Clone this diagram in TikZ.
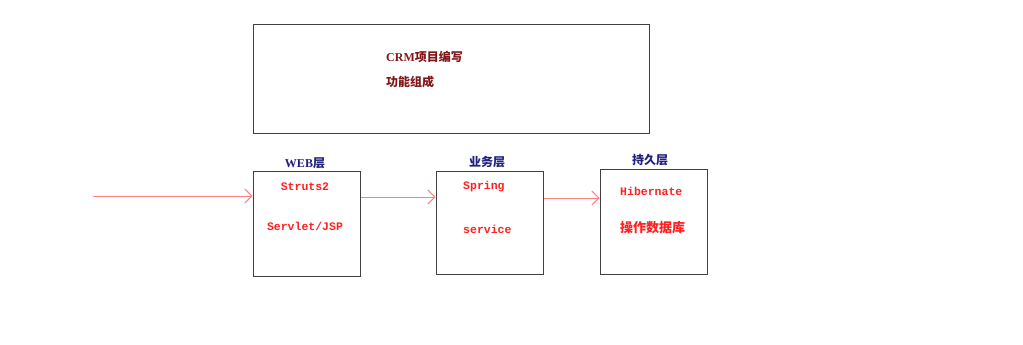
\documentclass[tikz,border=0pt]{standalone}
\usepackage{fontspec}
\setmainfont{Liberation Mono}
\newfontfamily\serifb{Liberation Serif}
\newfontfamily\cjk{Noto Sans CJK SC}
\usetikzlibrary{arrows.meta}
\definecolor{titlered}{RGB}{128,24,24}
\definecolor{layerblue}{RGB}{32,32,128}
\definecolor{itemred}{RGB}{255,32,32}
\definecolor{flowred}{RGB}{255,128,128}
\definecolor{boxedge}{RGB}{64,64,64}

\begin{document}
\begin{tikzpicture}[x=1pt, y=-1pt,
  layerbox/.style={draw=boxedge, line width=1pt, minimum width=107pt,
                   minimum height=105pt, inner sep=0pt},
  titlebox/.style={draw=boxedge, line width=1pt, minimum width=396pt,
                   minimum height=108pt, inner sep=0pt},
  titletext/.style={anchor=west, inner sep=0pt, text=titlered,
                    font=\fontsize{12}{14}\selectfont\bfseries},
  layername/.style={inner sep=0pt, text=layerblue,
                    font=\fontsize{12}{14}\selectfont\bfseries},
  item/.style={inner sep=0pt, text=itemred,
               font=\fontsize{11.5}{13}\selectfont\bfseries},
  flow/.style={-{Straight Barb[length=7pt,width=14pt]}, line width=1pt, draw=flowred},
]
\useasboundingbox[fill=white] (0,0) rectangle (1023,345);

% top box
\node[titlebox] (crm) at (451,79) {};
\node[titletext] (crm1) at (386,57) {{\serifb CRM}{\cjk 项目编写}};
\node[titletext] (crm2) at (386,82) {\cjk 功能组成};

% three layers
\node[layerbox] (web) at (306.5,223.5) {};
\node[layerbox, minimum height=103pt] (biz) at (489.5,222.5) {};
\node[layerbox] (dao) at (653.5,221.5) {};

\node[layername] (webname) at (305,163) {{\serifb WEB}{\cjk 层}};
\node[layername] (bizname) at (487,162) {\cjk 业务层};
\node[layername] (daoname) at (650,160) {\cjk 持久层};

\node[item] (struts) at (305,187) {Struts2};
\node[item] (servlet) at (305,226) {Servlet/JSP};
\node[item, anchor=west] (spring) at (463,187) {Spring};
\node[item, anchor=west] (service) at (463,229) {service};
\node[item, anchor=west] (hib) at (620,191) {Hibernate};
\node[item, anchor=west, font=\fontsize{13}{15}\selectfont\bfseries\cjk] (db) at (620,228) {操作数据库};

% request flow
\coordinate (start) at (93,196);
\draw[flow] (start) -- (start -| web.west);
\draw[flow] ([yshift=-1pt]start -| web.east) -- ([yshift=-1pt]start -| biz.west);
\draw[flow] ([yshift=-2pt]start -| biz.east) -- ([yshift=-2pt]start -| dao.west);

\end{tikzpicture}
\end{document}
